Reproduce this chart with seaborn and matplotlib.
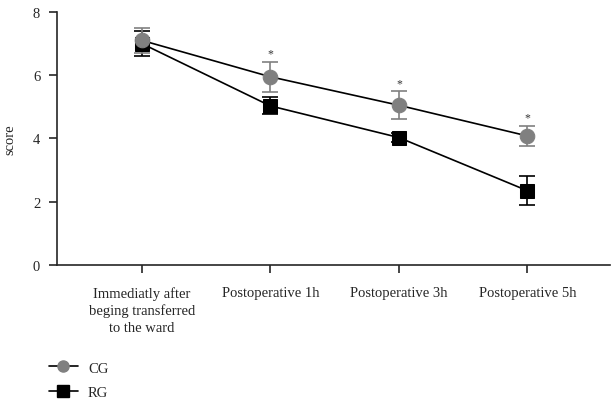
import numpy as np
import pandas as pd
import matplotlib
matplotlib.use("Agg")
import matplotlib.pyplot as plt
import seaborn as sns
from matplotlib.lines import Line2D

# data
time_labels = ["Immediatly after\nbeging transferred\nto the ward",
               "Postoperative 1h", "Postoperative 3h", "Postoperative 5h"]
cg_mean = [7.10, 5.95, 5.05, 4.08]
cg_err = [0.40, 0.48, 0.44, 0.33]
rg_mean = [7.00, 5.03, 4.03, 2.35]
rg_err = [0.40, 0.27, 0.15, 0.46]
star_idx = [1, 2, 3]

df = pd.DataFrame({
    "t": list(range(4)) * 2,
    "score": cg_mean + rg_mean,
    "group": ["CG"] * 4 + ["RG"] * 4,
})

sns.set_style("ticks")
plt.rcParams["font.family"] = ["Liberation Serif", "DejaVu Serif"]

fig = plt.figure(figsize=(6.11, 4.02), dpi=100)
ax = fig.add_axes([0.093, 0.338, 0.905, 0.63])

x = np.arange(4)
# error bars first so markers sit on top
ax.errorbar(x, rg_mean, yerr=rg_err, fmt="none", ecolor="black",
            elinewidth=1.2, capsize=6, capthick=1.2, zorder=2)
ax.errorbar(x, cg_mean, yerr=cg_err, fmt="none", ecolor="#808080",
            elinewidth=1.2, capsize=6, capthick=1.2, zorder=3)

sns.lineplot(data=df[df.group == "RG"], x="t", y="score", ax=ax,
             color="black", lw=1.2, marker="s", markersize=9.5,
             markerfacecolor="black", markeredgecolor="black", zorder=4)
sns.lineplot(data=df[df.group == "CG"], x="t", y="score", ax=ax,
             color="black", lw=1.2, marker="o", markersize=10.5,
             markerfacecolor="#808080", markeredgecolor="#808080", zorder=5)

for i in star_idx:
    ax.text(x[i], cg_mean[i] + cg_err[i] + 0.06, "*", ha="center",
            va="bottom", fontsize=8.5, color="#333333")

ax.set_xlim(-0.66, 3.64)
ax.set_ylim(0, 8)
ax.set_yticks([0, 2, 4, 6, 8])
ax.set_xticks(x)
ax.set_xticklabels(time_labels, fontsize=10.5, linespacing=1.35)
ax.tick_params(axis="y", labelsize=10.5, length=6, width=1.2, pad=6)
ax.tick_params(axis="x", length=6, width=1.2, pad=9)
ax.set_xlabel("")
ax.set_ylabel("score", fontsize=10.5, labelpad=12)
sns.despine(ax=ax)
for s in ["left", "bottom"]:
    ax.spines[s].set_linewidth(1.2)

handles = [
    Line2D([], [], color="black", lw=1.2, marker="o", markersize=8,
           markerfacecolor="#808080", markeredgecolor="#808080"),
    Line2D([], [], color="black", lw=1.2, marker="s", markersize=8,
           markerfacecolor="black", markeredgecolor="black"),
]
fig.legend(handles, ["CG", "RG"], loc="lower left",
           bbox_to_anchor=(0.058, -0.027), frameon=False, fontsize=10.5,
           handlelength=2.0, handletextpad=0.7, labelspacing=0.75)

fig.savefig("out.png", dpi=100)
